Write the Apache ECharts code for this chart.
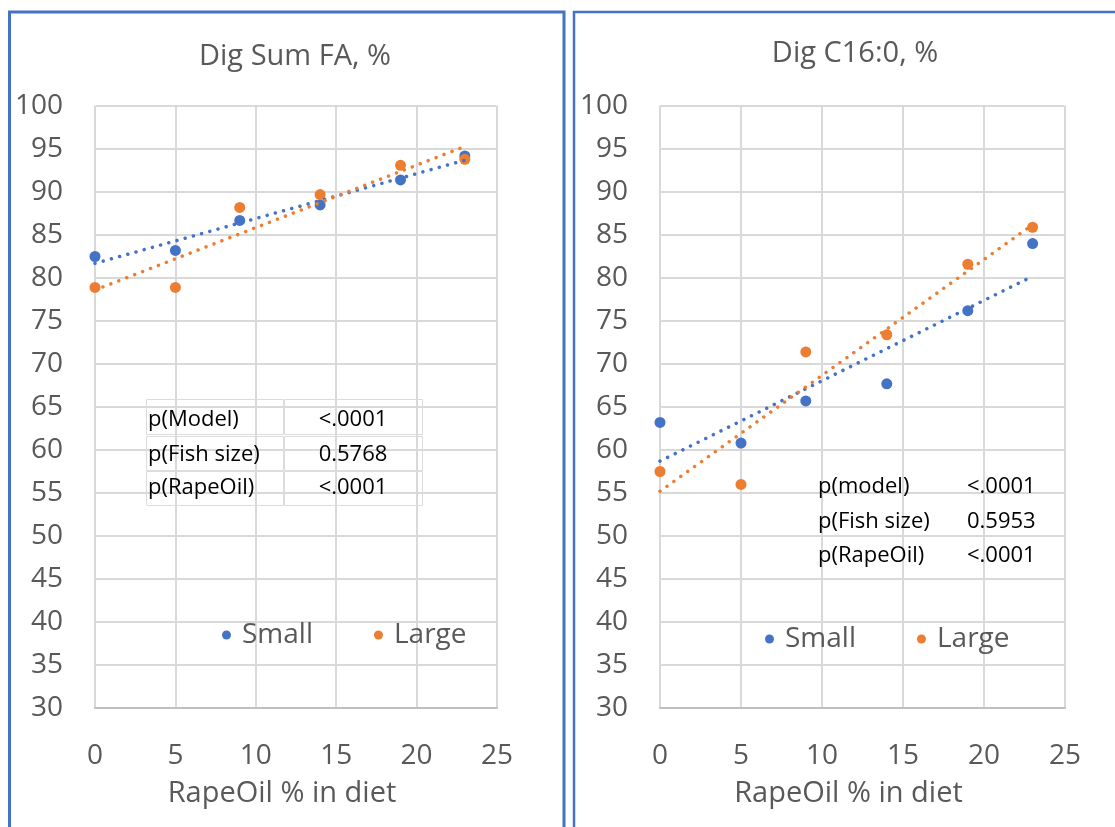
<!DOCTYPE html>
<html>
<head>
<meta charset="utf-8">
<script src="https://cdn.jsdelivr.net/npm/echarts@6/dist/echarts.min.js"></script>
<style>
html,body{margin:0;padding:0;background:#fff;}
#chart{width:1115px;height:827px;}
</style>
</head>
<body>
<div id="chart"></div>
<script>
// ---- data ----
const rapeOil = [0, 5, 9, 14, 19, 23];
const sumFASmall = [82.5, 83.2, 86.7, 88.5, 91.4, 94.2];
const sumFALarge = [78.9, 78.9, 88.2, 89.7, 93.1, 93.8];
const c16Small = [63.2, 60.8, 65.7, 67.7, 76.2, 84.0];
const c16Large = [57.5, 56.0, 71.4, 73.4, 81.6, 85.9];
// linear trendline ends (at x = 0 and x = 23)
const trendX = [0, 23];
const sumFASmallTrend = [81.7, 93.7];
const sumFALargeTrend = [78.6, 95.3];
const c16SmallTrend = [58.7, 80.2];
const c16LargeTrend = [55.2, 86.2];
const titles = ['Dig Sum FA, %', 'Dig C16:0, %'];
const xTitle = 'RapeOil % in diet';
const seriesNames = ['Small', 'Large'];
const tableLeft = [['p(Model)', '<.0001'], ['p(Fish size)', '0.5768'], ['p(RapeOil)', '<.0001']];
const tableRight = [['p(model)', '<.0001'], ['p(Fish size)', '0.5953'], ['p(RapeOil)', '<.0001']];

const BLUE = '#4472C4', ORANGE = '#ED7D31', TXT = '#595959', GRID = '#D9D9D9';
const FONT = 'Open Sans';

const zip = (xs, ys) => xs.map((x, i) => [x, ys[i]]);

const grids = [
  {left: 95, top: 106, width: 402, height: 602},
  {left: 660, top: 106, width: 405, height: 602}
];

function xAxisFor(i) {
  return {
    type: 'value', gridIndex: i, min: 0, max: 25, interval: 5,
    axisLine: {show: true, lineStyle: {color: '#BFBFBF', width: 2}},
    axisTick: {show: false},
    splitLine: {show: true, lineStyle: {color: GRID, width: 2}},
    axisLabel: {color: TXT, fontSize: 28, fontFamily: FONT, margin: 34},
    name: xTitle, nameLocation: 'middle', nameGap: 71,
    nameTextStyle: {color: TXT, fontSize: 29, fontFamily: FONT, padding: [0, 28, 0, 0]}
  };
}
function yAxisFor(i) {
  return {
    type: 'value', gridIndex: i, min: 30, max: 100, interval: 5,
    axisLine: {show: false}, axisTick: {show: false},
    splitLine: {show: true, lineStyle: {color: GRID, width: 2}},
    axisLabel: {color: TXT, fontSize: 28, fontFamily: FONT, margin: 32}
  };
}
function scatter(name, i, ys, color) {
  return {
    name: name, type: 'scatter', xAxisIndex: i, yAxisIndex: i,
    data: zip(rapeOil, ys), symbol: 'circle', symbolSize: 11,
    itemStyle: {color: color, opacity: 1}, z: 3
  };
}
function trend(name, i, ys, color) {
  return {
    name: name + ' trend', type: 'line', xAxisIndex: i, yAxisIndex: i,
    data: zip(trendX, ys), symbol: 'none', silent: true,
    lineStyle: {color: color, width: 3.5, type: [0.01, 8.5], cap: 'round'}, z: 4
  };
}

const graphic = [];
// panel frames
graphic.push({type: 'rect', shape: {x: 9.5, y: 12, width: 554.5, height: 900},
  style: {fill: 'none', stroke: BLUE, lineWidth: 3}, z: 100});
graphic.push({type: 'rect', shape: {x: 574, y: 12, width: 700, height: 900},
  style: {fill: 'none', stroke: BLUE, lineWidth: 2.5}, z: 100});
// left table
const colX = [146.5, 284.5], colW = [137, 138];
const rowY = [399.5, 436.5, 471.5], rowH = [35, 34, 34];
const rowC = [420, 455, 488];
tableLeft.forEach((row, r) => {
  row.forEach((cell, c) => {
    graphic.push({type: 'rect', shape: {x: colX[c], y: rowY[r], width: colW[c], height: rowH[r]},
      style: {fill: 'none', stroke: '#DCDCDC', lineWidth: 1}, z: 50});
  });
  graphic.push({type: 'text', x: 148, y: rowC[r], z: 51,
    style: {text: row[0], fill: '#000', font: '22px "' + FONT + '"', textVerticalAlign: 'middle', textAlign: 'left'}});
  graphic.push({type: 'text', x: 353, y: rowC[r], z: 51,
    style: {text: row[1], fill: '#000', font: '22px "' + FONT + '"', textVerticalAlign: 'middle', textAlign: 'center'}});
});
// right table (no borders)
const rowC2 = [487, 522, 556];
tableRight.forEach((row, r) => {
  graphic.push({type: 'text', x: 818, y: rowC2[r], z: 51,
    style: {text: row[0], fill: '#000', font: '22px "' + FONT + '"', textVerticalAlign: 'middle', textAlign: 'left'}});
  graphic.push({type: 'text', x: 967, y: rowC2[r], z: 51,
    style: {text: row[1], fill: '#000', font: '22px "' + FONT + '"', textVerticalAlign: 'middle', textAlign: 'left'}});
});

const legendBase = {
  data: seriesNames, icon: 'circle', itemWidth: 9, itemHeight: 9, itemGap: 61, padding: 0,
  textStyle: {color: TXT, fontSize: 28, fontFamily: FONT, padding: [0, 0, 0, 6]},
  selectedMode: false
};

const option = {
  backgroundColor: '#fff',
  animation: false,
  title: [
    {text: titles[0], left: 290, top: 37, textAlign: 'center',
     textStyle: {color: TXT, fontSize: 29, fontWeight: 'normal', fontFamily: FONT}},
    {text: titles[1], left: 850, top: 34, textAlign: 'center',
     textStyle: {color: TXT, fontSize: 29, fontWeight: 'normal', fontFamily: FONT}}
  ],
  legend: [
    Object.assign({}, legendBase, {left: 222, top: 621}),
    Object.assign({}, legendBase, {left: 765, top: 625})
  ],
  grid: grids,
  xAxis: [xAxisFor(0), xAxisFor(1)],
  yAxis: [yAxisFor(0), yAxisFor(1)],
  series: [
    scatter(seriesNames[0], 0, sumFASmall, BLUE),
    scatter(seriesNames[1], 0, sumFALarge, ORANGE),
    trend(seriesNames[0], 0, sumFASmallTrend, BLUE),
    trend(seriesNames[1], 0, sumFALargeTrend, ORANGE),
    scatter(seriesNames[0], 1, c16Small, BLUE),
    scatter(seriesNames[1], 1, c16Large, ORANGE),
    trend(seriesNames[0], 1, c16SmallTrend, BLUE),
    trend(seriesNames[1], 1, c16LargeTrend, ORANGE)
  ],
  graphic: graphic
};

const chart = echarts.init(document.getElementById('chart'), null, {renderer: 'canvas'});
chart.setOption(option);
</script>
</body>
</html>
